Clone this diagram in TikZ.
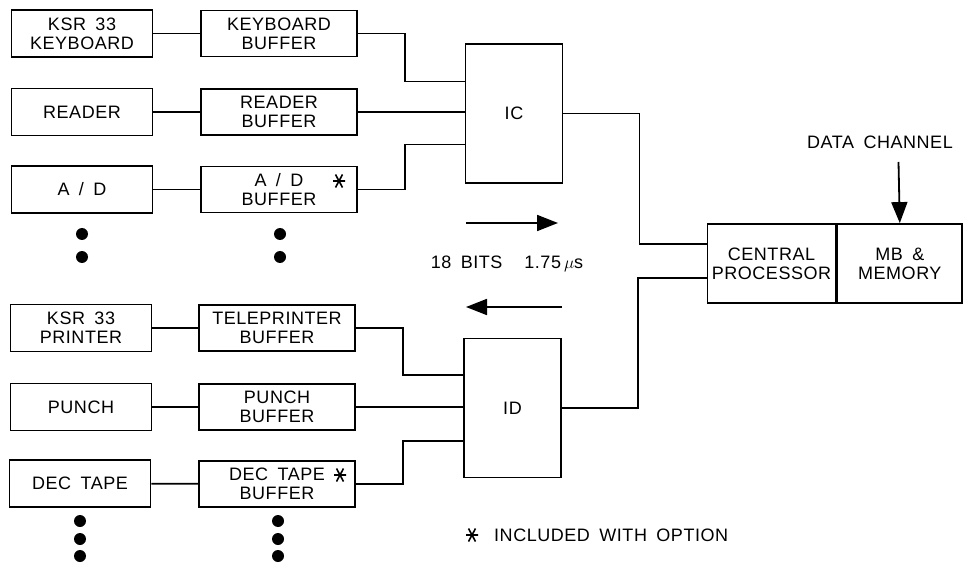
\documentclass[tikz,border=0pt]{standalone}
\usepackage{fontspec}
\setmainfont[LetterSpace=3,WordSpace=1.7]{Liberation Sans}
\usetikzlibrary{arrows.meta}

\begin{document}
\begin{tikzpicture}[x=1pt,y=-1pt,
    unit/.style={draw,line width=1.8pt,align=center,inner sep=0pt,
      font=\fontsize{18}{19}\selectfont},
    devbox/.style={unit,minimum width=141pt,minimum height=47pt},
    bufbox/.style={unit,minimum width=156pt,minimum height=46pt},
    ioreg/.style={unit,minimum width=97pt,minimum height=139pt},
    cpubox/.style={unit,minimum width=128pt,minimum height=79pt},
    wire/.style={line width=1.8pt},
    flow/.style={line width=1.8pt,-{Triangle[length=21pt,width=16pt]}},
    plain/.style={inner sep=0pt,font=\fontsize{18}{19}\selectfont},
    optstar/.pic={
      \draw[line width=1.6pt] (-6,0) -- (6,0)
        (-3.5,-6.5) -- (3.5,6.5) (3.5,-6.5) -- (-3.5,6.5);
    }]
  \useasboundingbox (0,0) rectangle (964,564);
  % input devices and buffers
  \node[devbox] (kbd) at (82,33.5) {KSR 33\\KEYBOARD};
  \node[bufbox] (kbuf) at (279,33.5) {KEYBOARD\\BUFFER};
  \node[devbox] (rdr) at (82,112) {READER};
  \node[bufbox] (rbuf) at (279,112) {READER\\BUFFER};
  \node[devbox] (adc) at (82,189.5) {A / D};
  \node[bufbox] (adbuf) at (279,189.5) {A / D\\BUFFER};
  \pic at (339,181) {optstar};
  % output devices and buffers
  \node[devbox] (prt) at (81,328) {KSR 33\\PRINTER};
  \node[bufbox] (tbuf) at (277,328) {TELEPRINTER\\BUFFER};
  \node[devbox] (pun) at (81,407) {PUNCH};
  \node[bufbox] (pbuf) at (277,407) {PUNCH\\BUFFER};
  \node[devbox] (dect) at (80,483.5) {DEC TAPE};
  \node[bufbox] (dbuf) at (277,484) {DEC TAPE\\BUFFER};
  \pic at (340,475) {optstar};
  \foreach \y in {234,257} {
    \fill (82,\y) circle (6pt);
    \fill (280,\y) circle (6pt);
  }
  \foreach \y in {521,539,556} {
    \fill (80,\y) circle (6pt);
    \fill (278,\y) circle (6pt);
  }
  % IC, ID and processor
  \node[ioreg] (ic) at (514,113.5) {IC};
  \node[ioreg] (id) at (512.5,408) {ID};
  \node[cpubox] (cp) at (771.5,263.5) {CENTRAL\\PROCESSOR};
  \node[cpubox,anchor=west,minimum width=125pt] (mb) at (cp.east) {MB \&\\MEMORY};
  % wiring
  \draw[wire] (kbd) -- (kbuf);
  \draw[wire] (rdr) -- (rbuf);
  \draw[wire] (adc) -- (adbuf);
  \draw[wire] (prt) -- (tbuf);
  \draw[wire] (pun) -- (pbuf);
  \draw[wire] (dect) -- (dbuf);
  \draw[wire] (kbuf.east) -- ++(47,0) |- ([yshift=32pt]ic.west);
  \draw[wire] (rbuf) -- (rbuf -| ic.west);
  \draw[wire] (adbuf.east) -- ++(47,0) |- ([yshift=-31pt]ic.west);
  \draw[wire] (tbuf.east) -- ++(47,0) |- ([yshift=33pt]id.west);
  \draw[wire] (pbuf) -- (pbuf -| id.west);
  \draw[wire] (dbuf.east) -- ++(47,0) |- ([yshift=-33pt]id.west);
  \draw[wire] (ic.east) -- ++(76,0) |- ([yshift=19.5pt]cp.west);
  \draw[wire] (id.east) -- ++(76,0) |- ([yshift=-14.5pt]cp.west);
  % transfer direction
  \coordinate (fwdA) at (466,223);
  \coordinate (fwdB) at (558,223);
  \coordinate (revA) at (562,307);
  \coordinate (revB) at (466,307);
  \draw[flow] (fwdA) -- (fwdB);
  \draw[flow] (revA) -- (revB);
  \node[plain] (rate) at (507,264) {18 BITS\hspace{22pt}1.75\,$\mu$s};
  % data channel
  \node[plain] (dch) at (880,142) {DATA CHANNEL};
  \coordinate (dchin) at (898.5,162);
  \draw[flow] (dchin) -- (mb.north);
  \node[plain,anchor=west] (optnote) at (494,535) {INCLUDED WITH OPTION};
  \pic at ([xshift=-22pt]optnote.west) {optstar};
\end{tikzpicture}
\end{document}
